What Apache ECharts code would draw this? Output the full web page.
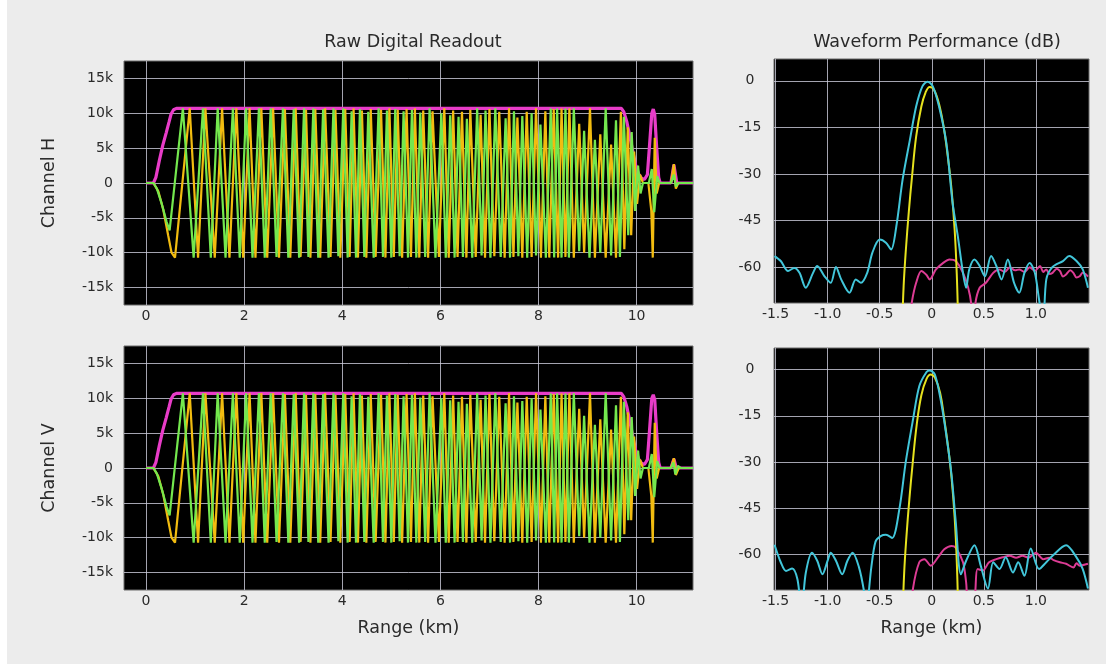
<!DOCTYPE html>
<html>
<head>
<meta charset="utf-8">
<script src="https://cdn.jsdelivr.net/npm/echarts@6/dist/echarts.min.js"></script>
<style>
  html, body { margin: 0; padding: 0; background: #ffffff; }
  #bg { position: absolute; left: 7px; top: 0; width: 1099px; height: 664px; background: #ececec; }
  #chart { position: absolute; left: 0; top: 0; width: 1111px; height: 664px; }
</style>
</head>
<body>
<div id="bg"></div>
<div id="chart"></div>
<script>
// ---- Raw readout: tick positions ----
const rangeTicks = [0, 2, 4, 6, 8, 10];
const countTicks = [-15000, -10000, -5000, 0, 5000, 10000, 15000];
const perfRangeTicks = [-1.5, -1.0, -0.5, 0, 0.5, 1.0];
const dbTicks = [-60, -45, -30, -15, 0];

// ---- Raw readout: Q (green) and I (orange) samples, km / counts ----
const chirpGreen = [
  [0.00,0],[0.15,0],[0.22,-800],[0.32,-3000],[0.42,-5600],[0.48,-6800],
  [0.75,10700],[0.97,-10700],[1.16,10700],[1.32,-10700],[1.46,10700],[1.62,-10700],[1.77,10700],[1.91,-10700],
  [2.04,10700],[2.17,-10700],[2.30,10700],[2.42,-10700],[2.54,10700],[2.66,-10600],
  [2.79,10700],[2.90,-10700],[3.01,10600],[3.12,-10700],[3.22,10700],[3.31,-10600],[3.41,10700],[3.51,-10700],
  [3.61,10600],[3.72,-10700],[3.82,10700],[3.92,-10500],[4.02,10700],[4.11,-10700],[4.19,10300],[4.28,-10700],
  [4.36,10600],[4.45,-10600],[4.53,10200],[4.64,-10700],[4.74,10700],[4.83,-10600],[4.91,10400],[5.00,-10700],
  [5.08,10600],[5.17,-10500],[5.25,10300],[5.34,-10700],[5.42,10500],[5.51,-10700],[5.59,10100],[5.69,-10600],
  [5.78,10700],[5.90,-10700],[6.02,10000],[6.11,-10700],[6.20,9700],[6.29,-10700],[6.37,9500],[6.46,-10600],
  [6.54,9200],[6.65,-10700],[6.75,10700],[6.84,-10400],[6.92,10400],[7.02,-10700],[7.12,10700],[7.23,-10600],
  [7.33,9300],[7.42,-10700],[7.50,10300],[7.59,-10500],[7.67,9600],[7.77,-10700],[7.86,10000],[7.95,-10400],
  [8.04,8400],[8.15,-10700],[8.25,10700],[8.32,-10700],[8.38,10700],[8.47,-10700],[8.55,10700],[8.62,-10700],
  [8.72,10700],[8.83,-9800],[8.93,7500],[9.04,-10700],[9.15,6200],[9.26,-10000],[9.37,10700],[9.48,-10400],
  [9.58,9000],[9.66,-10600],[9.74,9500],[9.83,-7500],[9.90,7300],[9.97,-4000],[10.03,2500],[10.08,-1500],[10.13,0]
];
const chirpOrange = [
  [0.00,0],[0.15,0],[0.25,-1200],[0.35,-3800],[0.45,-7500],[0.52,-10000],[0.59,-10700],
  [0.89,10700],[1.06,-10700],[1.21,10700],[1.40,-10700],[1.55,10700],[1.70,-10700],[1.84,10700],[1.98,-10700],
  [2.11,10700],[2.23,-10700],[2.35,10700],[2.47,-10700],[2.59,10700],[2.71,-10700],
  [2.83,10600],[2.94,-10700],[3.05,10700],[3.15,-10600],[3.26,10500],[3.35,-10700],[3.45,10600],[3.55,-10700],
  [3.65,10700],[3.76,-10600],[3.86,10500],[3.96,-10700],[4.06,10600],[4.15,-10600],[4.23,10700],[4.32,-10700],
  [4.40,10400],[4.49,-10700],[4.58,10600],[4.68,-10600],[4.79,10500],[4.88,-10700],[4.96,10700],[5.05,-10600],
  [5.13,10500],[5.22,-10700],[5.31,10600],[5.40,-10600],[5.48,10700],[5.57,-10700],[5.65,10400],[5.75,-10700],
  [5.84,10300],[5.97,-10600],[6.08,10700],[6.17,-10700],[6.26,10400],[6.35,-10600],[6.44,10200],[6.53,-10700],
  [6.61,10500],[6.72,-10600],[6.82,9800],[6.91,-10700],[7.00,10600],[7.10,-10500],[7.20,10200],[7.31,-10700],
  [7.40,10700],[7.49,-10600],[7.57,9400],[7.67,-10700],[7.76,10200],[7.86,-10600],[7.95,10700],[8.05,-10700],
  [8.14,10300],[8.22,-10700],[8.31,10600],[8.40,-10700],[8.47,10700],[8.55,-10600],[8.63,10700],[8.72,-10700],
  [8.83,8500],[8.93,-10000],[9.05,10700],[9.15,-10700],[9.26,7000],[9.37,-10700],[9.48,5500],[9.58,-10700],
  [9.68,10200],[9.75,-9500],[9.82,8000],[9.89,-7500],[9.95,4500],[10.01,-3000],[10.07,1200],[10.13,0]
];
const chirpEnvelope = [
  [0.00,0],[0.15,0],[0.20,800],[0.27,3200],[0.34,5400],[0.41,7200],[0.47,8800],[0.51,9900],[0.56,10500],
  [0.62,10700],[9.69,10700],[9.74,10200],[9.80,8800],[9.86,6800],[9.92,4600],[9.98,2600],[10.04,1300],
  [10.10,700],[10.16,500]
];

// echo returns after the pulse, per channel
const tailGreenH = [[10.25,0],[10.31,2000],[10.36,-4200],[10.42,1000],[10.47,0],[10.70,0],[10.76,1200],[10.80,-500],[10.85,0],[11.15,0]];
const tailOrangeH = [[10.24,0],[10.30,-4000],[10.33,-10700],[10.37,6500],[10.41,-1500],[10.46,0],[10.70,0],[10.76,2700],[10.80,-800],[10.85,0],[11.15,0]];
const tailEnvelopeH = [[10.22,1200],[10.27,6000],[10.31,10000],[10.34,10600],[10.37,9800],[10.41,5000],[10.45,800],[10.48,0],[10.70,0],[10.76,2600],[10.82,0],[11.15,0]];
const tailGreenV = [[10.25,0],[10.31,2000],[10.36,-4200],[10.42,1000],[10.47,0],[10.70,0],[10.75,800],[10.79,-900],[10.84,300],[10.90,0],[11.15,0]];
const tailOrangeV = [[10.24,0],[10.30,-4000],[10.33,-10700],[10.37,6500],[10.41,-1500],[10.46,0],[10.70,0],[10.76,1400],[10.80,-1000],[10.86,0],[11.15,0]];
const tailEnvelopeV = [[10.22,1200],[10.27,6000],[10.31,10000],[10.34,10500],[10.37,9800],[10.41,5000],[10.45,800],[10.48,0],[10.70,0],[10.76,1300],[10.81,0],[11.15,0]];

// ---- Waveform performance, km / dB ----
const compressedH = [
  [-1.51,-56.4],[-1.45,-58.0],[-1.38,-61.2],[-1.32,-60.2],[-1.27,-61.8],[-1.21,-66.6],[-1.14,-61.8],[-1.10,-59.6],
  [-1.03,-62.9],[-0.97,-65.0],[-0.92,-59.9],[-0.87,-63.9],[-0.79,-68.2],[-0.73,-63.9],[-0.68,-65.0],[-0.62,-61.8],
  [-0.57,-55.3],[-0.50,-51.1],[-0.44,-52.1],[-0.39,-54.3],[-0.34,-46.8],[-0.28,-31.8],[-0.21,-19.0],[-0.15,-8.3],
  [-0.09,-1.8],[-0.04,-0.3],[0.01,-1.8],[0.07,-8.3],[0.14,-20.0],[0.20,-39.3],[0.25,-50.0],[0.30,-61.8],
  [0.33,-66.6],[0.36,-60.7],[0.41,-57.5],[0.46,-59.6],[0.51,-62.9],[0.57,-56.4],[0.62,-59.6],[0.67,-63.9],
  [0.73,-57.5],[0.79,-65.0],[0.84,-68.2],[0.89,-61.8],[0.94,-58.6],[0.99,-61.8],[1.03,-70.3],[1.07,-78],
  [1.10,-63.9],[1.16,-59.9],[1.26,-58.0],[1.32,-56.4],[1.39,-58.0],[1.45,-60.7],[1.50,-66.6]
];
const idealH = [
  [-0.285,-80],[-0.27,-66],[-0.25,-55],[-0.22,-42],[-0.19,-31],[-0.15,-18],[-0.10,-8.3],[-0.06,-3.8],
  [-0.02,-2.0],[0.02,-2.8],[0.07,-7.5],[0.12,-16],[0.16,-26],[0.19,-35],[0.22,-48],[0.24,-62],[0.255,-80]
];
const crossH = [
  [-0.20,-75],[-0.19,-71],[-0.15,-65],[-0.10,-61.2],[-0.05,-62.5],[-0.02,-63.9],[0.04,-60.7],[0.11,-58.6],
  [0.17,-57.5],[0.23,-58.0],[0.30,-61.8],[0.35,-66.6],[0.38,-72],[0.39,-78],[0.41,-78],[0.42,-71.4],
  [0.46,-66.6],[0.52,-65.0],[0.59,-61.8],[0.65,-60.7],[0.70,-61.5],[0.75,-60.0],[0.80,-61.0],[0.84,-60.7],
  [0.89,-61.5],[0.94,-60.0],[0.99,-61.2],[1.04,-59.6],[1.07,-61.5],[1.10,-60.7],[1.13,-62.2],[1.16,-61.8],
  [1.20,-60.5],[1.23,-61.2],[1.26,-63.0],[1.29,-62.3],[1.33,-61.0],[1.36,-61.8],[1.39,-63.3],[1.42,-62.9],
  [1.45,-61.8],[1.48,-62.3],[1.50,-63.0]
];
const compressedV = [
  [-1.51,-56.8],[-1.45,-62.5],[-1.40,-65.3],[-1.34,-64.5],[-1.29,-68],[-1.25,-78],[-1.21,-66],[-1.15,-59.4],
  [-1.10,-62],[-1.05,-66.4],[-1.00,-62],[-0.97,-59.4],[-0.92,-62],[-0.86,-66.4],[-0.81,-62],[-0.76,-59.4],
  [-0.70,-64],[-0.65,-72],[-0.63,-78],[-0.58,-64],[-0.54,-55.8],[-0.49,-54],[-0.44,-53.6],[-0.38,-54.6],
  [-0.31,-45.0],[-0.25,-30.0],[-0.18,-16.2],[-0.12,-5.4],[-0.05,-0.8],[-0.02,-0.3],[0.03,-1.6],[0.09,-10.6],
  [0.14,-21.3],[0.19,-34.2],[0.23,-49.2],[0.28,-66.4],[0.33,-62],[0.41,-57.0],[0.47,-63.6],[0.54,-71],
  [0.59,-62.5],[0.65,-64.7],[0.71,-60.9],[0.78,-65.8],[0.83,-62.5],[0.89,-66.9],[0.95,-58.0],[1.03,-64.7],
  [1.10,-62.5],[1.16,-60.4],[1.29,-57.0],[1.39,-60.9],[1.45,-64.7],[1.50,-71]
];
const idealV = [
  [-0.28,-80],[-0.265,-66],[-0.245,-55],[-0.215,-42],[-0.185,-31],[-0.145,-18],[-0.10,-8.3],[-0.05,-3.0],
  [-0.01,-1.6],[0.03,-2.6],[0.08,-7.5],[0.12,-16],[0.16,-26],[0.19,-35],[0.22,-48],[0.24,-62],[0.255,-80]
];
const crossV = [
  [-0.19,-78],[-0.18,-71],[-0.12,-62.5],[-0.07,-61.5],[-0.01,-63.6],[0.06,-60.9],[0.12,-58.3],[0.19,-57.2],
  [0.23,-57.8],[0.30,-62.5],[0.33,-69],[0.355,-78],[0.41,-78],[0.42,-71],[0.44,-64.7],[0.49,-65.2],
  [0.55,-62.5],[0.62,-61.5],[0.68,-60.9],[0.75,-60.4],[0.81,-61.0],[0.87,-60.4],[0.93,-61.0],[1.00,-59.4],
  [1.07,-61.5],[1.13,-61.0],[1.17,-61.8],[1.23,-62.5],[1.29,-63.0],[1.36,-64.2],[1.39,-62.8],[1.42,-63.6],[1.50,-63.0]
];

const FONT = 'DejaVu Sans';
const TXT = '#2a2a2a';
const GRIDLINE = 'rgba(205,205,220,0.8)';

const chart = echarts.init(document.getElementById('chart'), null, { renderer: 'canvas' });

const grids = [
  { left: 124, top: 61, width: 569, height: 244 },
  { left: 124, top: 346, width: 569, height: 244 },
  { left: 774, top: 59, width: 315, height: 244 },
  { left: 774, top: 348, width: 315, height: 242 }
].map(g => Object.assign({ show: true, backgroundColor: '#000000', borderColor: '#6a6a6a', borderWidth: 1 }, g));

function valueAxis(extra) {
  return Object.assign({
    type: 'value',
    axisLine: { show: false },
    axisTick: { show: false },
    splitLine: { show: true, lineStyle: { color: GRIDLINE, width: 1 } },
    axisLabel: { color: TXT, fontFamily: FONT, fontSize: 14 },
    nameTextStyle: { color: TXT, fontFamily: FONT, fontSize: 17.5 }
  }, extra);
}

function withTicks(ax, ticks, fmt) {
  ax.axisTick = { show: false, customValues: ticks };
  ax.axisLabel = Object.assign({}, ax.axisLabel, { customValues: ticks, formatter: fmt });
  return ax;
}

const kFmt = v => (v === 0 ? '0' : (v / 1000) + 'k');
const kmFmt = v => String(v);
const perfFmt = v => (v === 0 ? '0' : v.toFixed(1));
const dbFmt = v => String(v);

const xAxes = [
  withTicks(valueAxis({ gridIndex: 0, min: -0.45, max: 11.15 }), rangeTicks, kmFmt),
  withTicks(valueAxis({ gridIndex: 1, min: -0.45, max: 11.15, name: 'Range (km)', nameLocation: 'middle', nameGap: 29 }), rangeTicks, kmFmt),
  withTicks(valueAxis({ gridIndex: 2, min: -1.515, max: 1.51 }), perfRangeTicks, perfFmt),
  withTicks(valueAxis({ gridIndex: 3, min: -1.515, max: 1.51, name: 'Range (km)', nameLocation: 'middle', nameGap: 29 }), perfRangeTicks, perfFmt)
];
xAxes.forEach(a => { a.axisLabel.margin = 4; });

const yAxes = [
  withTicks(valueAxis({ gridIndex: 0, min: -17500, max: 17500, name: 'Channel H', nameLocation: 'middle', nameGap: 66 }), countTicks, kFmt),
  withTicks(valueAxis({ gridIndex: 1, min: -17500, max: 17500, name: 'Channel V', nameLocation: 'middle', nameGap: 66 }), countTicks, kFmt),
  withTicks(valueAxis({ gridIndex: 2, min: -71.5, max: 7 }), dbTicks, dbFmt),
  withTicks(valueAxis({ gridIndex: 3, min: -71.5, max: 7 }), dbTicks, dbFmt)
];
yAxes[0].axisLabel.margin = 11;
yAxes[1].axisLabel.margin = 11;
yAxes[2].axisLabel.margin = 24; yAxes[2].axisLabel.align = 'center';
yAxes[3].axisLabel.margin = 24; yAxes[3].axisLabel.align = 'center';

function trace(idx, data, color, width, z, smooth) {
  return {
    type: 'line', xAxisIndex: idx, yAxisIndex: idx, data: data,
    showSymbol: false, symbol: 'none', smooth: smooth || false, z: z,
    lineStyle: { color: color, width: width }, silent: true
  };
}

const GREEN = '#74e84e';
const ORANGE = '#f2bc10';
const MAGENTA = '#e83cc8';
const CYAN = '#42c6da';
const YELLOW = '#e6e21e';
const PINK = '#dc3c94';

const series = [
  trace(0, chirpEnvelope.concat(tailEnvelopeH), MAGENTA, 3.2, 1),
  trace(0, chirpOrange.concat(tailOrangeH), ORANGE, 2.2, 2),
  trace(0, chirpGreen.concat(tailGreenH), GREEN, 2.2, 3),
  trace(1, chirpEnvelope.concat(tailEnvelopeV), MAGENTA, 3.2, 1),
  trace(1, chirpOrange.concat(tailOrangeV), ORANGE, 2.2, 2),
  trace(1, chirpGreen.concat(tailGreenV), GREEN, 2.2, 3),
  trace(2, crossH, PINK, 2, 2, 0.3),
  trace(2, idealH, YELLOW, 2, 3, 0.4),
  trace(2, compressedH, CYAN, 2, 4, 0.3),
  trace(3, crossV, PINK, 2, 2, 0.3),
  trace(3, idealV, YELLOW, 2, 3, 0.4),
  trace(3, compressedV, CYAN, 2, 4, 0.3)
];

chart.setOption({
  animation: false,
  backgroundColor: 'transparent',
  title: [
    { text: 'Raw Digital Readout', left: 408, top: 28, textAlign: 'center',
      textStyle: { color: TXT, fontFamily: FONT, fontSize: 17.5, fontWeight: 'normal' } },
    { text: 'Waveform Performance (dB)', left: 932, top: 28, textAlign: 'center',
      textStyle: { color: TXT, fontFamily: FONT, fontSize: 17.5, fontWeight: 'normal' } }
  ],
  grid: grids,
  xAxis: xAxes,
  yAxis: yAxes,
  series: series
});
</script>
</body>
</html>
